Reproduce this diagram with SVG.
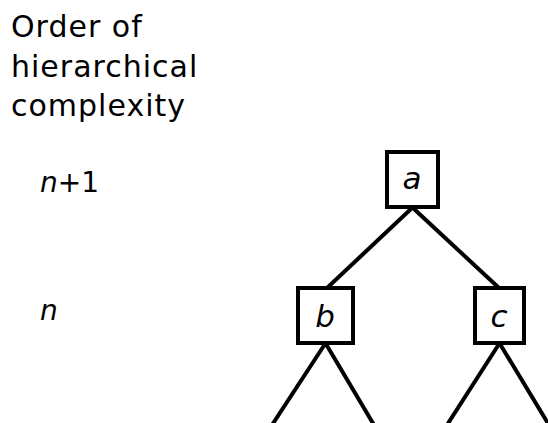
<svg xmlns="http://www.w3.org/2000/svg" width="548" height="423" viewBox="0 0 548 423">
<style>
.t{font-family:"DejaVu Sans",sans-serif;font-size:30px;letter-spacing:1px;fill:#000}
.lv{font-family:"DejaVu Sans",sans-serif;font-size:28px;fill:#000}
.i{font-style:italic}
.box{fill:#fff;stroke:#000;stroke-width:4}
.ln{stroke:#000;stroke-width:4;fill:none}
.lbl{font-family:"DejaVu Sans",sans-serif;font-size:31px;font-style:italic;text-anchor:middle;fill:#000}
</style>
<rect width="548" height="423" fill="#fff"/>
<g id="title">
<text class="t" x="11" y="37">Order of</text>
<text class="t" x="11" y="77">hierarchical</text>
<text class="t" x="11" y="116">complexity</text>
</g>
<g id="levels">
<text class="lv" x="40" y="192"><tspan class="i">n</tspan>+1</text>
<text class="lv i" x="40" y="320">n</text>
</g>
<g id="connectors">
<line class="ln" x1="412" y1="208" x2="327" y2="288"/>
<line class="ln" x1="413" y1="208" x2="499" y2="288"/>
<line class="ln" x1="325" y1="344" x2="272" y2="425"/>
<line class="ln" x1="326" y1="344" x2="374" y2="425"/>
<line class="ln" x1="499" y1="344" x2="447" y2="425"/>
<line class="ln" x1="500" y1="344" x2="549" y2="425"/>
</g>
<g id="node-a">
<rect class="box" x="387" y="152" width="51" height="55"/>
<text class="lbl" x="412" y="189">a</text>
</g>
<g id="node-b">
<rect class="box" x="298" y="288" width="55" height="55"/>
<text class="lbl" x="325" y="327">b</text>
</g>
<g id="node-c">
<rect class="box" x="475" y="288" width="49" height="55"/>
<text class="lbl" x="499" y="327">c</text>
</g>
</svg>
